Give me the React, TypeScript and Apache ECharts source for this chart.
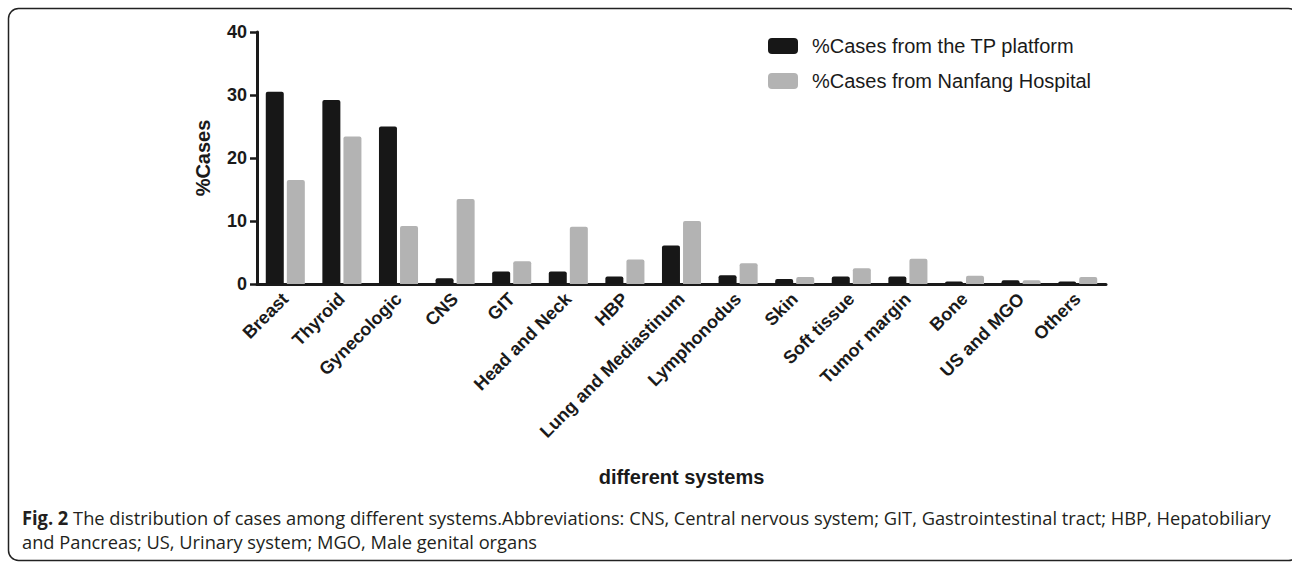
import React, { useEffect, useRef } from "react";
import * as echarts from "echarts";

const categories = [
  "Breast", "Thyroid", "Gynecologic", "CNS", "GIT", "Head and Neck", "HBP",
  "Lung and Mediastinum", "Lymphonodus", "Skin", "Soft tissue", "Tumor margin",
  "Bone", "US and MGO", "Others",
];
const tpPlatform = [30.5, 29.2, 25.0, 0.9, 2.0, 2.0, 1.2, 6.1, 1.4, 0.8, 1.2, 1.2, 0.4, 0.6, 0.4];
const nanfang = [16.5, 23.4, 9.2, 13.5, 3.6, 9.1, 3.9, 10.0, 3.3, 1.1, 2.5, 4.0, 1.3, 0.6, 1.1];
const seriesNames = ["%Cases from the TP platform", "%Cases from Nanfang Hospital"];
const yTicks = [0, 10, 20, 30, 40];
const captionLine1Bold = "Fig. 2";
const captionLine1 = " The distribution of cases among different systems.Abbreviations: CNS, Central nervous system; GIT, Gastrointestinal tract; HBP, Hepatobiliary";
const captionLine2 = "and Pancreas; US, Urinary system; MGO, Male genital organs";

const AX = "#1a1a1a";
const CAP_FONT = "'Open Sans', 'Noto Sans', sans-serif";

function measure(text: string, font: string): number {
  const c = document.createElement("canvas");
  const ctx = c.getContext("2d");
  if (!ctx) return text.length * 9;
  ctx.font = font;
  return ctx.measureText(text).width;
}

export default function App() {
  const ref = useRef<HTMLDivElement>(null);
  useEffect(() => {
    if (!ref.current) return;
    const chart = echarts.init(ref.current, undefined, { renderer: "svg" });
    const capSize = 19;
    const w = measure(captionLine1Bold, `bold ${capSize}px ${CAP_FONT}`) +
      measure(captionLine1, `${capSize}px ${CAP_FONT}`);
    const sx = 1250 / w;
    const option: any = {
      animation: false,
      backgroundColor: "#ffffff",
      grid: { left: 257, right: 186, top: 32, bottom: 279, containLabel: false },
      legend: {
        left: 763,
        top: 31,
        orient: "vertical",
        itemWidth: 30,
        itemHeight: 16,
        itemGap: 15,
        itemStyle: { borderRadius: 3 },
        icon: "roundRect",
        textStyle: {
          fontFamily: "Arial, 'Liberation Sans', sans-serif",
          fontSize: 20,
          color: AX,
          lineHeight: 16,
          padding: [0, 0, 0, 9],
        },
        data: seriesNames,
      },
      xAxis: {
        type: "category",
        data: categories,
        name: "different systems",
        nameLocation: "middle",
        nameGap: 183,
        nameTextStyle: {
          fontFamily: "Arial, 'Liberation Sans', sans-serif",
          fontWeight: "bold",
          fontSize: 20,
          color: AX,
        },
        axisLine: { lineStyle: { color: AX, width: 3 } },
        axisTick: { alignWithLabel: true, length: 7, lineStyle: { color: AX, width: 2.5 } },
        axisLabel: {
          interval: 0,
          rotate: 45,
          margin: 12,
          fontFamily: "Arial, 'Liberation Sans', sans-serif",
          fontWeight: "bold",
          fontSize: 18,
          color: AX,
        },
        splitLine: { show: false },
      },
      yAxis: {
        type: "value",
        min: yTicks[0],
        max: yTicks[yTicks.length - 1],
        interval: 10,
        name: "%Cases",
        nameLocation: "middle",
        nameGap: 44,
        nameTextStyle: {
          fontFamily: "Arial, 'Liberation Sans', sans-serif",
          fontWeight: "bold",
          fontSize: 20,
          color: AX,
        },
        axisLine: { show: true, lineStyle: { color: AX, width: 3 } },
        axisTick: { show: true, length: 7, lineStyle: { color: AX, width: 2.5 } },
        axisLabel: {
          margin: 10,
          fontFamily: "Arial, 'Liberation Sans', sans-serif",
          fontWeight: "bold",
          fontSize: 18,
          color: AX,
        },
        splitLine: { show: false },
      },
      series: [
        {
          name: seriesNames[0],
          type: "bar",
          data: tpPlatform,
          barWidth: 18,
          barGap: "17%",
          itemStyle: { color: "#171717", borderRadius: [2, 2, 0, 0] },
        },
        {
          name: seriesNames[1],
          type: "bar",
          data: nanfang,
          barWidth: 18,
          itemStyle: { color: "#b3b3b3", borderRadius: [2, 2, 0, 0] },
        },
      ],
      graphic: [
        {
          type: "rect",
          shape: { x: 8.5, y: 8.5, width: 1290, height: 552, r: 10 },
          style: { fill: "none", stroke: "#222", lineWidth: 1.5 },
          silent: true,
        },
        {
          type: "text",
          x: 22,
          y: 517,
          scaleX: sx,
          style: {
            text: `{b|${captionLine1Bold}}${captionLine1}`,
            fontFamily: CAP_FONT,
            fontSize: capSize,
            fill: "#231f20",
            verticalAlign: "middle",
            rich: {
              b: { fontFamily: CAP_FONT, fontSize: capSize, fontWeight: "bold", fill: "#231f20" },
            },
          },
        },
        {
          type: "text",
          x: 22,
          y: 541,
          scaleX: sx,
          style: {
            text: captionLine2,
            fontFamily: CAP_FONT,
            fontSize: capSize,
            fill: "#231f20",
            verticalAlign: "middle",
          },
        },
      ],
    };
    chart.setOption(option);
    return () => chart.dispose();
  }, []);
  return (
    <div
      ref={ref}
      style={{ position: "absolute", left: 0, top: 0, width: 1292, height: 563 }}
    />
  );
}
